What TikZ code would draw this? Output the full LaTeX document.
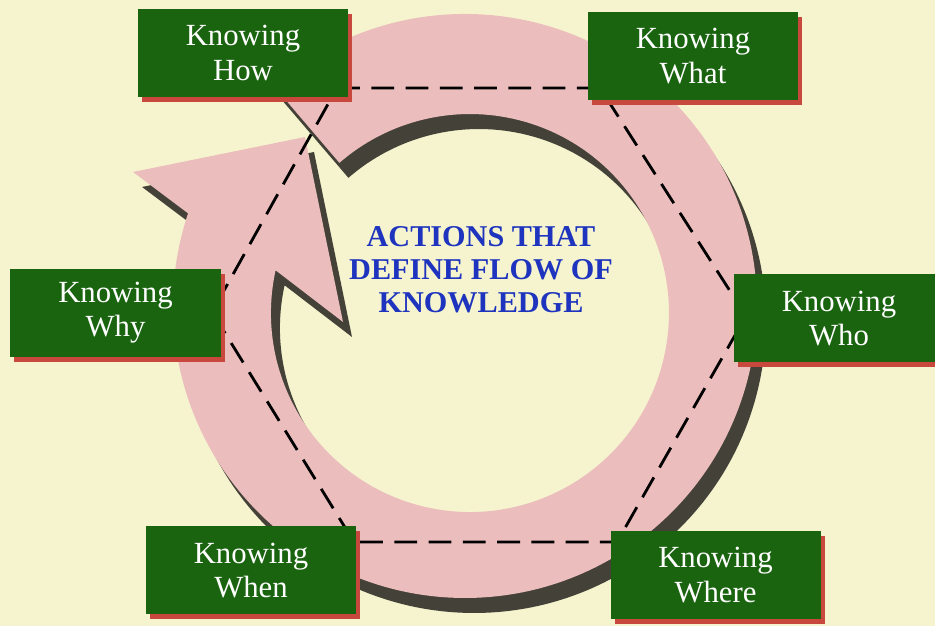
\documentclass[tikz,border=0pt]{standalone}
\usepackage{fontspec}
\setmainfont{Liberation Serif}
\usetikzlibrary{shadows}
\definecolor{paper}{RGB}{245,244,206}
\definecolor{ringpink}{RGB}{236,189,189}
\definecolor{ringshade}{RGB}{68,66,56}
\definecolor{boxgreen}{RGB}{26,100,16}
\definecolor{boxred}{RGB}{200,72,62}
\definecolor{titleblue}{RGB}{30,52,190}

\begin{document}
\begin{tikzpicture}[x=0.2mm, y=0.2mm,
  box/.style={fill=boxgreen, text=white, minimum width=42mm, minimum height=17.6mm,
    align=center, font=\fontsize{17.5}{19.5}\selectfont,
    drop shadow={shadow xshift=0.8mm, shadow yshift=-1mm, fill=boxred, opacity=1}},
  hexdash/.style={black, line width=1.6pt, dash pattern=on 13pt off 6.5pt},
  title/.style={text=titleblue, align=center, font=\bfseries\fontsize{17.2}{18.9}\selectfont}]
\clip (0,0) rectangle (935,626);
\fill[paper] (0,0) rectangle (935,626);

\foreach \dx/\dy/\col in {9/-15/ringshade, 0/0/ringpink}
  \fill[\col, shift={(\dx,\dy)}] (273.4,540.4)
    arc[start angle=131, end angle=-198.5, radius=292]
    -- (133,454) -- (305,489) -- (343,304) -- (275.6,355.7)
    arc[start angle=167.6, end angle=491, radius=199] -- cycle;

\coordinate (v1) at (337,538);
\coordinate (v2) at (600,538);
\coordinate (v3) at (746,310);
\coordinate (v4) at (617,84);
\coordinate (v5) at (354,84);
\coordinate (v6) at (212,314);
\draw[hexdash] (v1) -- (v2) -- (v3) -- (v4) -- (v5) -- (v6) -- cycle;

\node[box] (how) at (243,573) {Knowing\\How};
\node[box] (what) at (693,570) {Knowing\\What};
\node[box] (why) at (115.5,313) {Knowing\\Why};
\node[box] (who) at (839,307.5) {Knowing\\Who};
\node[box] (when) at (251,55.5) {Knowing\\When};
\node[box] (where) at (715.5,51) {Knowing\\Where};

\node[title] (flow) at (481,356) {ACTIONS THAT\\DEFINE FLOW OF\\KNOWLEDGE};
\end{tikzpicture}
\end{document}
